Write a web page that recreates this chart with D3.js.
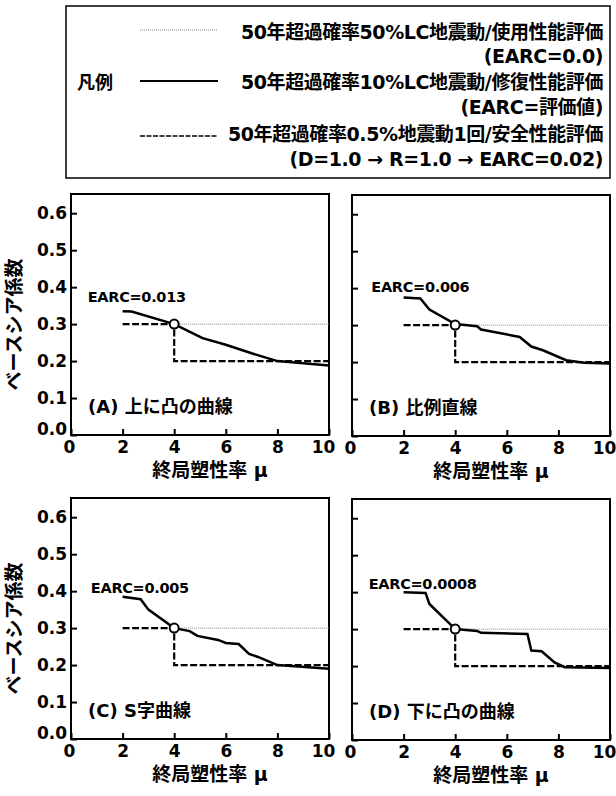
<!DOCTYPE html>
<html>
<head>
<meta charset="utf-8">
<script src="https://cdn.jsdelivr.net/npm/d3@7"></script>
<style>
  body { margin: 0; background: #fff; }
  svg { display: block; }
  text { font-family: "DejaVu Sans", "Noto Sans CJK JP", sans-serif; font-weight: bold; fill: #000; }
</style>
</head>
<body>
<svg id="chart" width="616" height="796"></svg>
<script>
// values
var xTicks = [0, 2, 4, 6, 8, 10];
var yTicks = [0.0, 0.1, 0.2, 0.3, 0.4, 0.5, 0.6];

var curveA = [[2,0.335],[2.35,0.334],[4,0.30],[5.1,0.262],[6,0.244],[7,0.221],[8,0.2],[9,0.194],[10,0.188]];
var curveB = [[2,0.375],[2.65,0.372],[3,0.342],[4,0.303],[4.85,0.297],[5,0.288],[6.5,0.268],[6.95,0.242],[7.4,0.232],[8.3,0.205],[9,0.198],[10,0.196]];
var curveC = [[2,0.385],[2.7,0.378],[3,0.35],[4,0.30],[4.6,0.292],[4.9,0.279],[5.7,0.268],[6,0.26],[6.5,0.257],[6.9,0.23],[7.25,0.222],[8,0.2],[8.8,0.196],[10,0.19]];
var curveD = [[2,0.4],[2.85,0.398],[3,0.368],[4,0.30],[4.85,0.295],[5,0.29],[6.8,0.287],[6.95,0.242],[7.35,0.24],[7.85,0.21],[8.25,0.197],[10,0.195]];

// serviceability (dotted) and safety (dashed) lines, same in every panel
var serviceLine = [[4,0.3],[10,0.3]];
var safetyLine = [[2,0.3],[4,0.3],[4,0.2],[10,0.2]];
var pointLC = [4, 0.3];

var panelNames = ['(A) 上に凸の曲線', '(B) 比例直線', '(C) S字曲線', '(D) 下に凸の曲線'];
var earcLabels = ['EARC=0.013', 'EARC=0.006', 'EARC=0.005', 'EARC=0.0008'];
var earcAt = [[0.65,0.373],[0.75,0.403],[0.77,0.409],[0.65,0.422]];
var curves = [curveA, curveB, curveC, curveD];

var legendRows = [
  '50年超過確率50%LC地震動/使用性能評価',
  '(EARC=0.0)',
  '50年超過確率10%LC地震動/修復性能評価',
  '(EARC=評価値)',
  '50年超過確率0.5%地震動1回/安全性能評価',
  '(D=1.0 → R=1.0 → EARC=0.02)'
];

var xTitle = '終局塑性率  μ';
var yTitle = 'ベースシア係数';

var svg = d3.select('#chart');

// legend
var leg = svg.append('g');
leg.append('rect')
  .attr('x', 66).attr('y', 6).attr('width', 544).attr('height', 172)
  .attr('fill', 'none').attr('stroke', '#000').attr('stroke-width', 1.5);
leg.append('text').attr('x', 77).attr('y', 89).style('font-size', '18px').text('凡例');
var rowY = [32, 56, 82, 107, 134, 159];
leg.selectAll('.lrow').data(legendRows).enter()
  .append('text')
  .attr('class', 'lrow')
  .attr('x', 603)
  .attr('y', function(d, i) { return rowY[i] + 7; })
  .attr('text-anchor', 'end')
  .style('font-size', '19px')
  .style('letter-spacing', '-0.4px')
  .text(function(d) { return d; });
leg.append('line').attr('x1', 140).attr('x2', 218).attr('y1', 30).attr('y2', 30)
  .attr('stroke', '#888').attr('stroke-width', 1).attr('stroke-dasharray', '1,1');
leg.append('line').attr('x1', 140).attr('x2', 218).attr('y1', 81).attr('y2', 81)
  .attr('stroke', '#000').attr('stroke-width', 2);
leg.append('line').attr('x1', 140).attr('x2', 218).attr('y1', 136).attr('y2', 136)
  .attr('stroke', '#000').attr('stroke-width', 1.5).attr('stroke-dasharray', '5,1.5');

// panels
var layout = [
  { left: 71, top: 194 },
  { left: 352, top: 195 },
  { left: 71, top: 498 },
  { left: 352, top: 499 }
];
var w = 258, h = 241;

var x = d3.scaleLinear().domain([0, 10]).range([0, w]);
var y = d3.scaleLinear().domain([0, 0.652]).range([h, 0]);
var line = d3.line().x(function(d) { return x(d[0]); }).y(function(d) { return y(d[1]); });

layout.forEach(function(p, i) {
  var g = svg.append('g').attr('transform', 'translate(' + p.left + ',' + p.top + ')');

  var xAxis = d3.axisBottom(x).tickValues(xTicks).tickFormat(d3.format('d'))
    .tickSizeInner(-6).tickSizeOuter(0).tickPadding(6);
  var gx = g.append('g').attr('transform', 'translate(0,' + h + ')').call(xAxis);

  var yAxis = d3.axisLeft(y).tickValues(yTicks).tickFormat(d3.format('.1f'))
    .tickSizeInner(-6).tickSizeOuter(0).tickPadding(4);
  var gy = g.append('g').call(yAxis);

  [gx, gy].forEach(function(a) {
    a.select('.domain').remove();
    a.selectAll('line').attr('stroke', '#000').attr('stroke-width', 2);
    a.selectAll('text').style('font-size', '17px').attr('font-family', null);
  });
  // pull the end labels slightly inward, as in the print
  gx.selectAll('text').attr('dx', function(d) { return d === 10 ? -6 : (d === 0 ? -2 : 0); });
  gy.selectAll('text').attr('y', function(d) { return d === 0 ? -6 : 0; });
  if (i % 2 === 1) gy.selectAll('text').remove();

  g.append('rect').attr('width', w).attr('height', h)
    .attr('fill', 'none').attr('stroke', '#000').attr('stroke-width', 2);

  g.append('path').datum(serviceLine).attr('d', line)
    .attr('fill', 'none').attr('stroke', '#888').attr('stroke-width', 1).attr('stroke-dasharray', '1,1');
  g.append('path').datum(safetyLine).attr('d', line)
    .attr('fill', 'none').attr('stroke', '#000').attr('stroke-width', 2.2).attr('stroke-dasharray', '7,2.5');
  g.append('path').datum(curves[i]).attr('d', line)
    .attr('fill', 'none').attr('stroke', '#000').attr('stroke-width', 2.5);
  g.append('circle').attr('cx', x(pointLC[0])).attr('cy', y(pointLC[1])).attr('r', 4.5)
    .attr('fill', '#fff').attr('stroke', '#000').attr('stroke-width', 2);

  g.append('text')
    .attr('x', x(earcAt[i][0]))
    .attr('y', y(earcAt[i][1]))
    .attr('dy', '0.36em')
    .style('font-size', '14.5px').style('letter-spacing', '-0.3px')
    .text(earcLabels[i]);

  g.append('text').attr('x', 17).attr('y', y(0.05) - 4)
    .style('font-size', '18px').text(panelNames[i]);

  g.append('text').attr('x', w / 2 + 10).attr('y', h + 42)
    .attr('text-anchor', 'middle').style('font-size', '19px').text(xTitle);

  if (i % 2 === 0) {
    g.append('text')
      .attr('transform', 'translate(-50,' + (h / 2 + 10) + ') rotate(-90)')
      .attr('text-anchor', 'middle').style('font-size', '19px').text(yTitle);
  }
});
</script>
</body>
</html>
